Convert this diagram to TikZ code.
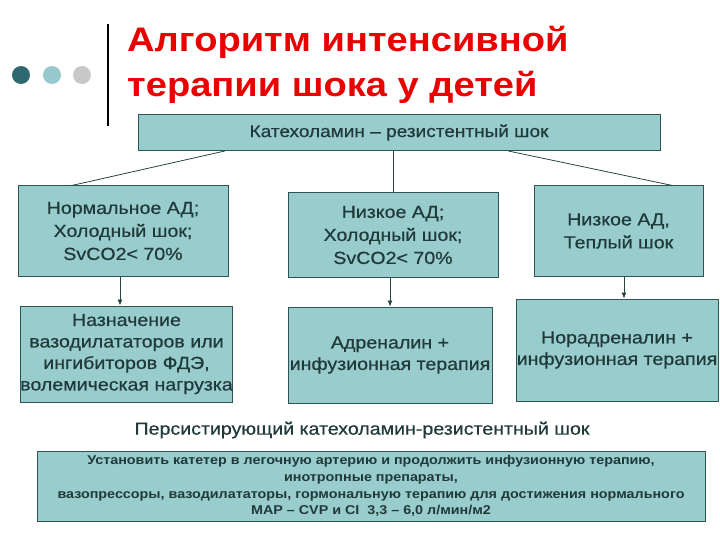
\documentclass[tikz,border=0pt]{standalone}
\usepackage{fontspec}
\setmainfont{Liberation Sans}
\newfontfamily\boxfont[FakeStretch=1.12]{Liberation Sans}
\newfontfamily\heavyfont[FakeStretch=1.12,FakeBold=0.6]{Liberation Sans}
\usetikzlibrary{arrows.meta,calc}
\definecolor{boxfill}{RGB}{153,204,204}
\definecolor{boxline}{RGB}{45,85,85}
\definecolor{txtdark}{RGB}{32,58,58}
\definecolor{titlered}{RGB}{235,0,0}
\definecolor{dotdark}{RGB}{45,105,110}
\definecolor{dotlight}{RGB}{150,200,205}
\definecolor{dotgray}{RGB}{200,200,200}

\begin{document}
\begin{tikzpicture}[x=1pt, y=-1pt,
    box/.style={draw=boxline, line width=1pt, fill=boxfill, rectangle, align=center, inner sep=0pt, text=txtdark},
    toptxt/.style={font=\heavyfont\fontsize{17.5}{23}\selectfont},
    lowtxt/.style={font=\heavyfont\fontsize{17.5}{21.5}\selectfont},
    link/.style={draw=boxline!80!black, line width=0.8pt},
    arr/.style={link, -{Latex[length=6pt,width=5pt]}}]
    \useasboundingbox (0,0) rectangle (720,540);

    % header
    \fill[dotdark] (21,75) circle (9);
    \fill[dotlight] (52,75) circle (9);
    \fill[dotgray] (82,75) circle (9);
    \draw[line width=2.5pt] (108,24) -- (108,126);
    \node[anchor=north west, inner sep=0pt, align=left, text=titlered, font=\boxfont\fontsize{34}{45}\bfseries\selectfont] (title) at (127,26) {Алгоритм интенсивной\\терапии шока у детей};

    % boxes
    \node[box, minimum width=522, minimum height=36, font=\heavyfont\fontsize{17}{20}\selectfont] (cat) at (399,132.5) {Катехоламин – резистентный шок};

    \node[box, toptxt, minimum width=210, minimum height=90] (nl) at (123,231) {Нормальное АД;\\Холодный шок;\\SvCO2< 70\%};
    \node[box, toptxt, minimum width=210, minimum height=84] (nm) at (393,235) {Низкое АД;\\Холодный шок;\\SvCO2< 70\%};
    \node[box, toptxt, minimum width=169, minimum height=90] (nr) at (618.5,231) {Низкое АД,\\Теплый шок};

    \node[box, lowtxt, minimum width=205, minimum height=96] (al) at (126.5,354) {Назначение\\вазодилататоров или\\ингибиторов ФДЭ,\\волемическая нагрузка};
    \node[box, lowtxt, minimum width=204, minimum height=96] (am) at (390,355) {Адреналин +\\инфузионная терапия};
    \node[box, lowtxt, minimum width=202, minimum height=102] (ar) at (617,350) {Норадреналин +\\инфузионная терапия};

    \node[text=txtdark, font=\heavyfont\fontsize{17.5}{21}\selectfont] (pers) at (362,430) {Персистирующий катехоламин-резистентный шок};

    \node[box, minimum width=668, minimum height=70, font=\boxfont\fontsize{12.8}{16.8}\bfseries\selectfont] (bot) at (371,486) {Установить катетер в легочную артерию и продолжить инфузионную терапию,\\инотропные препараты,\\вазопрессоры, вазодилататоры, гормональную терапию для достижения нормального\\MAP – CVP и CI~ 3,3 – 6,0 л/мин/м2};

    % connectors
    \draw[link] ($(cat.south west)!.167!(cat.south east)$) -- ($(nl.north west)!.257!(nl.north east)$);
    \draw[link] (cat.south -| nm.north) -- (nm.north);
    \draw[link] ($(cat.south west)!.709!(cat.south east)$) -- ($(nr.north west)!.817!(nr.north east)$);

    \draw[arr] ([xshift=-3pt]nl.south) -- ([xshift=-3pt]nl.south |- al.north);
    \draw[arr] ([xshift=-3pt]nm.south) -- ([xshift=-3pt]nm.south |- am.north);
    \draw[arr] ([xshift=5.5pt]nr.south) -- ([xshift=5.5pt]nr.south |- ar.north);
\end{tikzpicture}
\end{document}
